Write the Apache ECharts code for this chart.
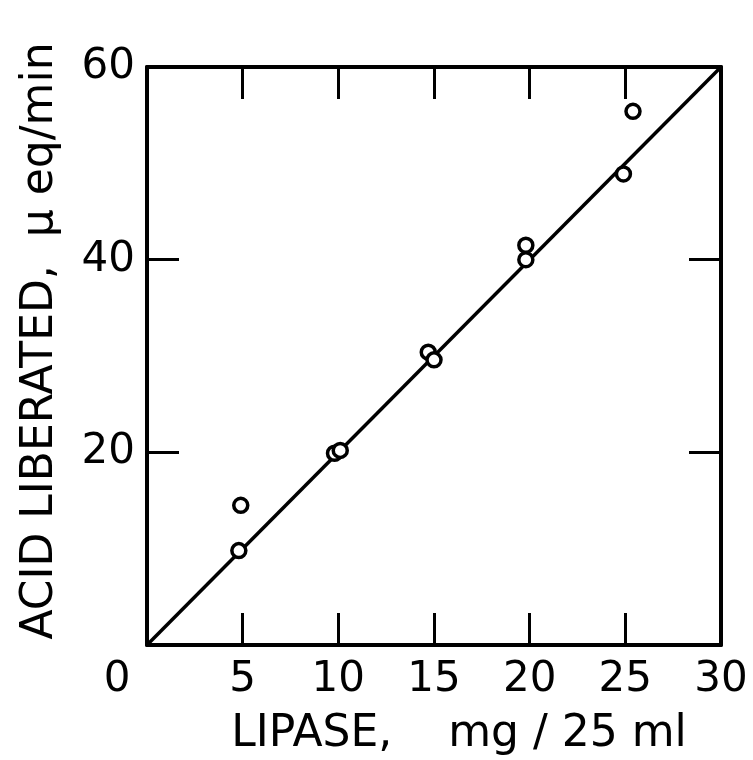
<!DOCTYPE html>
<html>
<head>
<meta charset="utf-8">
<script src="https://cdn.jsdelivr.net/npm/echarts@6/dist/echarts.min.js"></script>
<style>
  html, body { margin: 0; padding: 0; background: #fff; }
  #main { width: 753px; height: 760px; }
</style>
</head>
<body>
<div id="main"></div>
<script>
// measured points (lipase mg/25 ml, acid liberated µeq/min)
var lipase = [4.9, 4.8, 9.8, 10.1, 14.7, 15.0, 19.8, 19.8, 24.9, 25.4];
var acid = [14.5, 9.8, 19.9, 20.2, 30.4, 29.6, 41.5, 40.0, 48.9, 55.4];
// fitted line
var lineX = [0, 30];
var lineY = [0, 60];

var myChart = echarts.init(document.getElementById('main'));

var font = 'DejaVu Sans';
var axisLine = { show: true, onZero: false, lineStyle: { color: '#000', width: 4 } };
var tick = { show: true, inside: true, length: 32, lineStyle: { color: '#000', width: 3 } };

var option = {
  backgroundColor: '#fff',
  animation: false,
  grid: { left: 147, right: 32, top: 67, bottom: 115, containLabel: false, outerBoundsMode: 'none' },
  xAxis: [
    {
      type: 'value', min: 0, max: 30, interval: 5,
      axisLine: axisLine, axisTick: tick, splitLine: { show: false },
      axisLabel: {
        color: '#000', fontFamily: font, fontSize: 42, margin: 14,
        formatter: function (v) { return v === 0 ? '{z|0}' : String(v); },
        rich: { z: { fontFamily: font, fontSize: 42, color: '#000', padding: [0, 60, 0, 0] } }
      },
      name: 'LIPASE,    mg / 25 ml',
      nameLocation: 'middle', nameGap: 68,
      nameTextStyle: { color: '#000', fontFamily: font, fontSize: 44, padding: [0, 0, 0, 50] }
    },
    {
      type: 'value', min: 0, max: 30, interval: 5, position: 'top',
      axisLine: axisLine, axisTick: tick, splitLine: { show: false },
      axisLabel: { show: false }
    }
  ],
  yAxis: [
    {
      type: 'value', min: 0, max: 60, interval: 20,
      axisLine: axisLine, axisTick: tick, splitLine: { show: false },
      axisLabel: {
        color: '#000', fontFamily: font, fontSize: 42, margin: 12,
        formatter: function (v) { return v === 0 ? '' : String(v); }
      },
      name: 'ACID LIBERATED,  \u03bc eq/min',
      nameLocation: 'middle', nameGap: 84,
      nameTextStyle: { color: '#000', fontFamily: font, fontSize: 44, padding: [0, 0, 0, 30] }
    },
    {
      type: 'value', min: 0, max: 60, interval: 20, position: 'right',
      axisLine: axisLine, axisTick: tick, splitLine: { show: false },
      axisLabel: { show: false }
    }
  ],
  series: [
    {
      type: 'line',
      data: lineX.map(function (x, i) { return [x, lineY[i]]; }),
      symbol: 'none',
      lineStyle: { color: '#000', width: 3.5 },
      z: 2
    },
    {
      type: 'scatter',
      data: lipase.map(function (x, i) { return [x, acid[i]]; }),
      symbol: 'circle',
      symbolSize: 14,
      itemStyle: { color: '#fff', borderColor: '#000', borderWidth: 3.5, opacity: 1 },
      z: 3
    }
  ]
};

myChart.setOption(option);
</script>
</body>
</html>
